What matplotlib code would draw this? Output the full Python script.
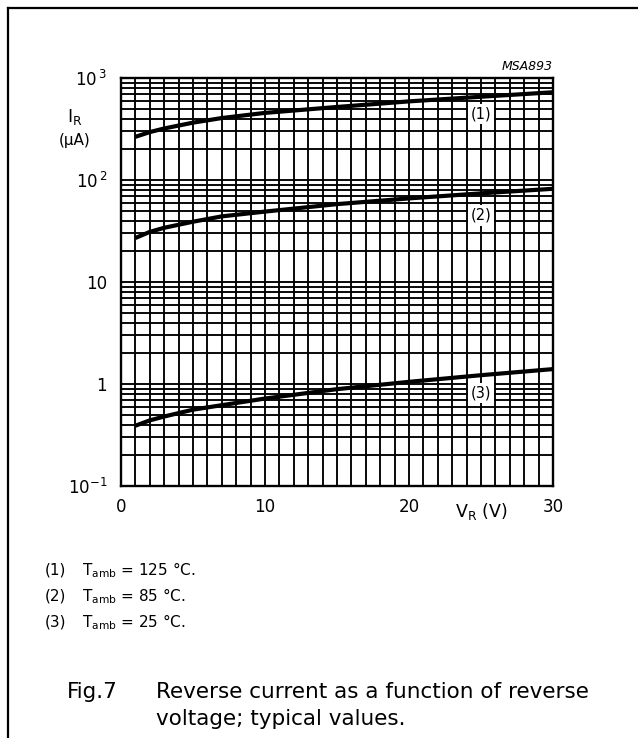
import numpy as np
import matplotlib
matplotlib.use("Agg")
import matplotlib.pyplot as plt
from matplotlib.lines import Line2D
from matplotlib.ticker import FixedLocator, LogLocator, NullFormatter

# -----------------------------------------------------------------------------
# Data
# -----------------------------------------------------------------------------
v_r = [1, 2, 3, 5, 7, 10, 15, 20, 25, 30]
ir_125 = [265, 295, 320, 365, 405, 455, 520, 590, 655, 725]
ir_85 = [27, 31, 34, 39, 44, 49, 58, 66, 74, 82]
ir_25 = [0.39, 0.44, 0.48, 0.56, 0.62, 0.72, 0.89, 1.05, 1.22, 1.40]

curve_tags = ["(1)", "(2)", "(3)"]
tag_v = [25, 25, 25]
tag_i = [444, 45, 0.82]

x_ticks = [0, 10, 20, 30]
y_ticks = [0.1, 1, 10, 100, 1000]
y_ticklabels = [r"$\mathregular{10^{-1}}$", "1", "10",
                r"$\mathregular{10^{\,2}}$", r"$\mathregular{10^{\,3}}$"]

note_tags = ["(1)", "(2)", "(3)"]
note_texts = [
    r"$\mathregular{T_{amb}}$ = 125 °C.",
    r"$\mathregular{T_{amb}}$ = 85 °C.",
    r"$\mathregular{T_{amb}}$ = 25 °C.",
]

# -----------------------------------------------------------------------------
# Style
# -----------------------------------------------------------------------------
plt.rcParams.update({
    "font.family": ["DejaVu Sans"],
    "mathtext.fontset": "dejavusans",
})

W, H = 638, 738
fig = plt.figure(figsize=(W / 100, H / 100), dpi=100)

# axes box in pixels: x 121..553, y 78..486
ax = fig.add_axes([121 / W, 1 - 486 / H, (553 - 121) / W, (486 - 78) / H])
ax.set_yscale("log")
ax.set_xlim(0, 30)
ax.set_ylim(0.1, 1000)

# grid: every volt, every log minor step
ax.xaxis.set_minor_locator(FixedLocator(np.arange(0, 31, 1)))
ax.xaxis.set_major_locator(FixedLocator(x_ticks))
ax.yaxis.set_major_locator(FixedLocator(y_ticks))
ax.yaxis.set_minor_locator(LogLocator(base=10, subs=np.arange(2, 10)))
ax.yaxis.set_minor_formatter(NullFormatter())
ax.set_xticklabels([str(t) for t in x_ticks])
ax.set_yticklabels(y_ticklabels)

ax.grid(True, which="both", color="black", linewidth=1.35)
ax.tick_params(which="both", length=0, labelsize=12)
ax.tick_params(axis="x", pad=9)
ax.tick_params(axis="y", pad=10)
for sp in ax.spines.values():
    sp.set_linewidth(1.7)

for series in (ir_125, ir_85, ir_25):
    ax.plot(v_r, series, color="black", linewidth=3.0, zorder=4,
            solid_capstyle="butt")

for tag, tv, ti in zip(curve_tags, tag_v, tag_i):
    ax.text(tv, ti, tag, ha="center", va="center", fontsize=10.5, zorder=5,
            bbox=dict(facecolor="white", edgecolor="none", pad=2))

# axis labels
fig.text(75 / W, 1 - 117 / H, r"$\mathregular{I_R}$", ha="center",
         va="center", fontsize=12.5)
fig.text(75 / W, 1 - 140 / H, "(µA)", ha="center", va="center", fontsize=11)
fig.text(481 / W, 1 - 512 / H, r"$\mathregular{V_R}$ (V)", ha="center",
         va="center", fontsize=12.5)
fig.text(553 / W, 1 - 67 / H, "MSA893", ha="right", va="center",
         fontsize=9, style="italic")

# notes under the chart
for i, (tag, txt) in enumerate(zip(note_tags, note_texts)):
    y = 1 - (570 + 26 * i) / H
    fig.text(45 / W, y, tag, ha="left", va="center", fontsize=11)
    fig.text(82 / W, y, txt, ha="left", va="center", fontsize=11)

# caption
fig.text(67 / W, 1 - 692 / H, "Fig.7", ha="left", va="center", fontsize=15.5)
fig.text(156 / W, 1 - 692 / H, "Reverse current as a function of reverse",
         ha="left", va="center", fontsize=15.5)
fig.text(156 / W, 1 - 719 / H, "voltage; typical values.", ha="left",
         va="center", fontsize=15.5)

# outer frame (only left and top visible in the picture)
fig.add_artist(Line2D([8 / W, 8 / W], [0, 1 - 8 / H], color="black",
                      linewidth=1.6, transform=fig.transFigure))
fig.add_artist(Line2D([8 / W, 1], [1 - 8 / H, 1 - 8 / H], color="black",
                      linewidth=1.6, transform=fig.transFigure))

fig.savefig("out.png", dpi=100, facecolor="white")
